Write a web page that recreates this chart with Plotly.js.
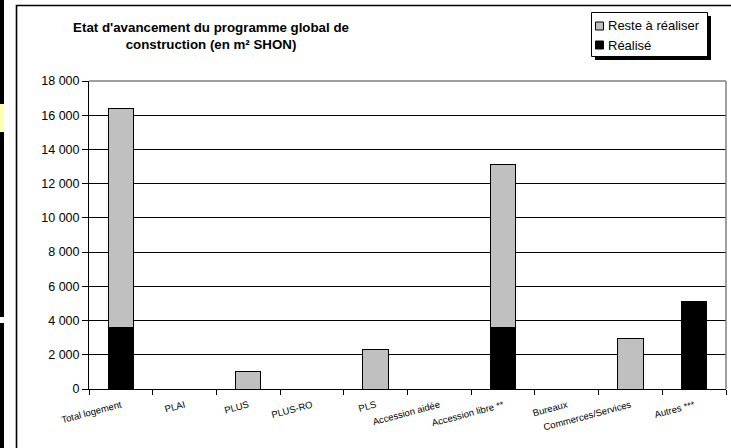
<!DOCTYPE html>
<html>
<head>
<meta charset="utf-8">
<script src="https://cdn.plot.ly/plotly-3.0.1.min.js"></script>
<style>html,body{margin:0;padding:0;background:#fff;}#chart{width:731px;height:448px;}</style>
</head>
<body>
<div id="chart"></div>
<script>
const categories = ['Total logement','PLAI','PLUS','PLUS-RO','PLS','Accession aidée','Accession libre **','Bureaux','Commerces/Services','Autres ***'];
const realise = [3600, null, null, null, null, null, 3600, null, null, 5100];
const resteARealiser = [12800, null, 1000, null, 2300, null, 9500, null, 2950, null];
const yTicks = [0, 2000, 4000, 6000, 8000, 10000, 12000, 14000, 16000, 18000];
const seriesNames = ['Réalisé', 'Reste à réaliser'];
const seriesColors = ['#000000', '#C0C0C0'];
const titleText = "Etat d'avancement du programme global de<br>construction (en m² SHON)";

const FONT = 'Arial, "Liberation Sans", sans-serif';

const traces = [
  {type:'bar', name: seriesNames[0], x: categories, y: realise, showlegend:false,
   marker:{color:seriesColors[0], line:{color:'#000000', width:1}}, hoverinfo:'x+y'},
  {type:'bar', name: seriesNames[1], x: categories, y: resteARealiser, showlegend:false,
   marker:{color:seriesColors[1], line:{color:'#000000', width:1}}, hoverinfo:'x+y'}
];

// helpers converting pixel positions to paper coords (plot area 89..726 x 81..389)
const PL=89, PR=726, PT=81, PB=389;
const px = v => (v-PL)/(PR-PL);
const py = v => (PB-v)/(PB-PT);

const shapes = [
  // outer chart frame
  {type:'path', xref:'paper', yref:'paper',
   path:'M' + px(16.5) + ',' + py(460) + ' L' + px(16.5) + ',' + py(5.5) + ' L' + px(740) + ',' + py(5.5),
   line:{color:'#000000', width:1.6}},
  // left dark strip of the page behind
  {type:'rect', xref:'paper', yref:'paper', x0:px(0), x1:px(4), y0:py(104), y1:py(0), line:{width:0}, fillcolor:'#000'},
  {type:'rect', xref:'paper', yref:'paper', x0:px(0), x1:px(4), y0:py(132), y1:py(104), line:{width:0}, fillcolor:'#FFFFB0'},
  {type:'rect', xref:'paper', yref:'paper', x0:px(0), x1:px(4), y0:py(317), y1:py(132), line:{width:0}, fillcolor:'#000'},
  {type:'rect', xref:'paper', yref:'paper', x0:px(0), x1:px(4), y0:py(448), y1:py(323), line:{width:0}, fillcolor:'#000'},
  // plot area border (gray) right and top
  {type:'line', xref:'paper', yref:'paper', x0:1, x1:1, y0:0, y1:1, line:{color:'#808080', width:1.5}},
  {type:'line', xref:'paper', yref:'paper', x0:0, x1:1, y0:1, y1:1, line:{color:'#808080', width:1.5}},
  // legend shadow + box
  {type:'rect', xref:'paper', yref:'paper', x0:px(595), x1:px(711), y0:py(60), y1:py(16), line:{width:0}, fillcolor:'#000'},
  {type:'rect', xref:'paper', yref:'paper', x0:px(591.5), x1:px(707.5), y0:py(56.5), y1:py(12.5), line:{color:'#000', width:1}, fillcolor:'#fff'},
  // legend keys
  {type:'rect', xref:'paper', yref:'paper', x0:px(595.5), x1:px(603.5), y0:py(30), y1:py(22), line:{color:'#000', width:1}, fillcolor:seriesColors[1]},
  {type:'rect', xref:'paper', yref:'paper', x0:px(595.5), x1:px(603.5), y0:py(49), y1:py(41), line:{color:'#000', width:1}, fillcolor:seriesColors[0]}
];

const annotations = [
  {xref:'paper', yref:'paper', x:px(606), y:py(26), xanchor:'left', yanchor:'middle', showarrow:false,
   text:seriesNames[1], font:{family:FONT, size:13, color:'#000'}},
  {xref:'paper', yref:'paper', x:px(606), y:py(45), xanchor:'left', yanchor:'middle', showarrow:false,
   text:seriesNames[0], font:{family:FONT, size:13, color:'#000'}}
];

const layout = {
  width:731, height:448,
  margin:{l:PL, r:731-PR, t:PT, b:448-PB, pad:0},
  paper_bgcolor:'#fff', plot_bgcolor:'#fff',
  font:{family:FONT, color:'#000', size:12},
  separators:', ',
  barmode:'stack', bargap:0.6,
  title:{text:titleText, x:211/731, xanchor:'center', y:1-32/448, yanchor:'top',
         font:{family:FONT, size:13.3, color:'#000', weight:'bold'}},
  xaxis:{type:'category', showgrid:false, ticks:'outside', ticklen:5, tickcolor:'#000', tickson:'boundaries',
         showline:true, linecolor:'#000', linewidth:1, tickangle:-15, ticklabelstandoff:6,
         tickfont:{family:FONT, size:9.5, color:'#000'}, fixedrange:true},
  yaxis:{range:[0,18000], tickvals:yTicks, ticks:'outside', ticklen:6, tickcolor:'#000',
         showline:true, linecolor:'#000', linewidth:1, showgrid:true, gridcolor:'#000', gridwidth:1,
         zeroline:false, separatethousands:true, tickformat:',d',
         tickfont:{family:FONT, size:12.5, color:'#000'}, fixedrange:true},
  showlegend:false,
  shapes:shapes,
  annotations:annotations
};

Plotly.newPlot('chart', traces, layout, {displayModeBar:false, staticPlot:true});
</script>
</body>
</html>
